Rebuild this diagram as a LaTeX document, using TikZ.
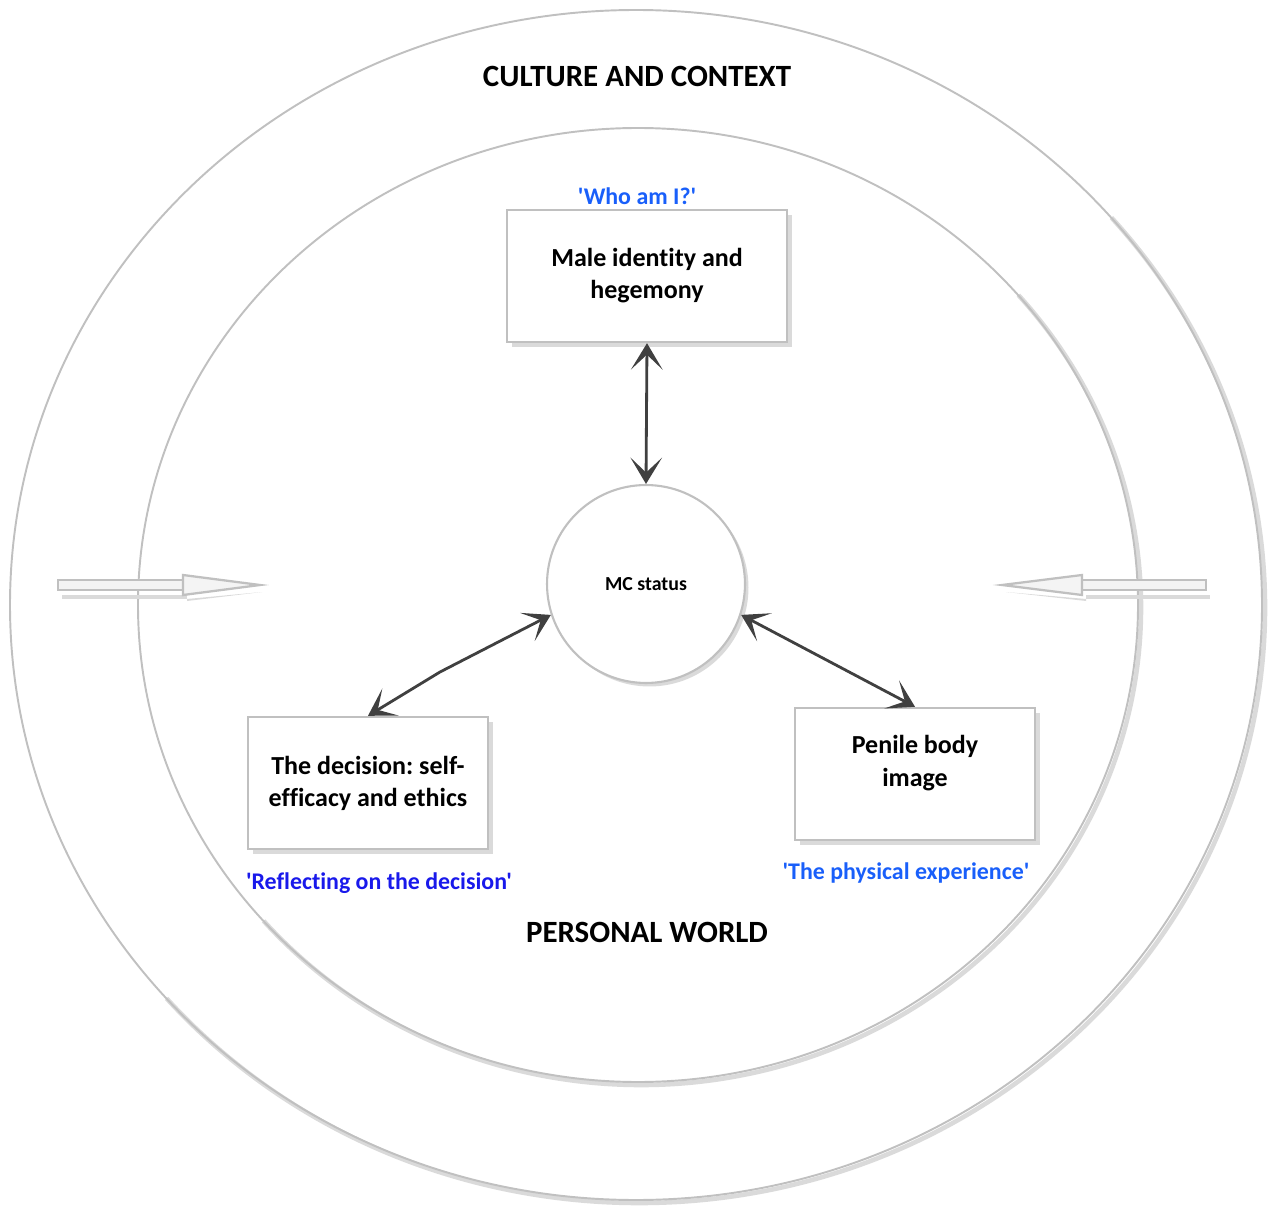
\documentclass[tikz,border=0pt]{standalone}
\usepackage{fontspec}
\setmainfont{Carlito}[Ligatures={TeXOff,CommonOff}]
\usetikzlibrary{arrows.meta,shadows}
\definecolor{lineg}{RGB}{192,192,192}
\definecolor{shadg}{RGB}{218,218,218}
\definecolor{arrg}{RGB}{64,64,64}
\definecolor{blueA}{RGB}{25,95,250}
\definecolor{blueB}{RGB}{25,25,235}
\definecolor{fillg}{RGB}{244,244,244}
\begin{document}
\frenchspacing
\begin{tikzpicture}[x=0.02cm,y=0.02cm,
  box/.style={draw=lineg, line width=1.4pt, fill=white, minimum height=2.64cm,
    align=center, font=\fontsize{14.8}{18.3}\selectfont\bfseries,
    drop shadow={shadow xshift=3pt, shadow yshift=-3pt, fill=shadg, opacity=1}},
  hub/.style={circle, draw=lineg, line width=1.2pt, fill=white, minimum size=3.96cm,
    font=\fontsize{11.3}{13}\selectfont\bfseries,
    drop shadow={shadow xshift=2pt, shadow yshift=-2pt, fill=shadg, opacity=1}},
  conn/.style={arrg, line width=1.6pt,
    {Stealth[length=15pt,width=18pt,inset=8.5pt]}-{Stealth[length=15pt,width=18pt,inset=8.5pt]}},
  ring/.style={lineg, line width=1.1pt},
  ringshadow/.style={shadg, line width=2.6pt},
  title/.style={font=\fontsize{17.6}{20}\selectfont\bfseries},
  quoteA/.style={blueA, font=\fontsize{13.6}{16}\selectfont\bfseries},
  quoteB/.style={blueB, font=\fontsize{13.6}{16}\selectfont\bfseries},
  hollow/.style={draw=lineg, fill=fillg, line width=1.3pt, line join=miter}
]
\useasboundingbox (0,0) rectangle (1281,1205);

% outer ellipse
\draw[ringshadow] (639,597) ++(-139:626 and 595)
  arc[start angle=-139, end angle=41, x radius=626, y radius=595];
\draw[ring] (636,600) ellipse [x radius=626, y radius=595];
% inner ellipse
\draw[ringshadow] (641,597) ++(-139:500 and 477)
  arc[start angle=-139, end angle=41, x radius=500, y radius=477];
\draw[ring] (638,600) ellipse [x radius=500, y radius=477];

% hollow side arrows
\fill[shadg] (62,610) rectangle (187,606);
\draw[hollow] (58,615) rectangle (183,625);
\fill[shadg] (187,606) -- (262,613) -- (187,604) -- cycle;
\draw[hollow] (183,630) -- (183,610) -- (260,620) -- cycle;
\fill[shadg] (1086,610) rectangle (1210,606);
\draw[hollow] (1082,615) rectangle (1206,625);
\fill[shadg] (1086,606) -- (1006,613) -- (1086,604) -- cycle;
\draw[hollow] (1082,630) -- (1082,610) -- (1002,620) -- cycle;

% texts
\node[title] (culture) at (637,1129) {CULTURE AND CONTEXT};
\node[title] (personal) at (647,273) {PERSONAL WORLD};

% nodes
\node[hub] (mc) at (646,621) {MC status};
\node[box, minimum width=5.6cm] (top) at (647,929) {Male identity and\\hegemony};
\node[box, minimum width=4.8cm] (left) at (368,422) {The decision: self-\\efficacy and ethics};
\node[box, minimum width=4.8cm, text depth=15pt] (right) at (915,431) {Penile body\\image};

\node[quoteA] (who) at (637,1009) {'Who am I?'};
\node[quoteB] (refl) at (379,322) {'Reflecting on the decision'};
\node[quoteA] (phys) at (906,332) {'The physical experience'};

% connectors
\draw[conn] (top.south) -- (mc.north);
\coordinate (bend) at (440,533);
\draw[conn] (mc.198) -- (bend) -- (left.north);
\draw[conn] (mc.-18) -- (right.north);
\end{tikzpicture}
\end{document}
